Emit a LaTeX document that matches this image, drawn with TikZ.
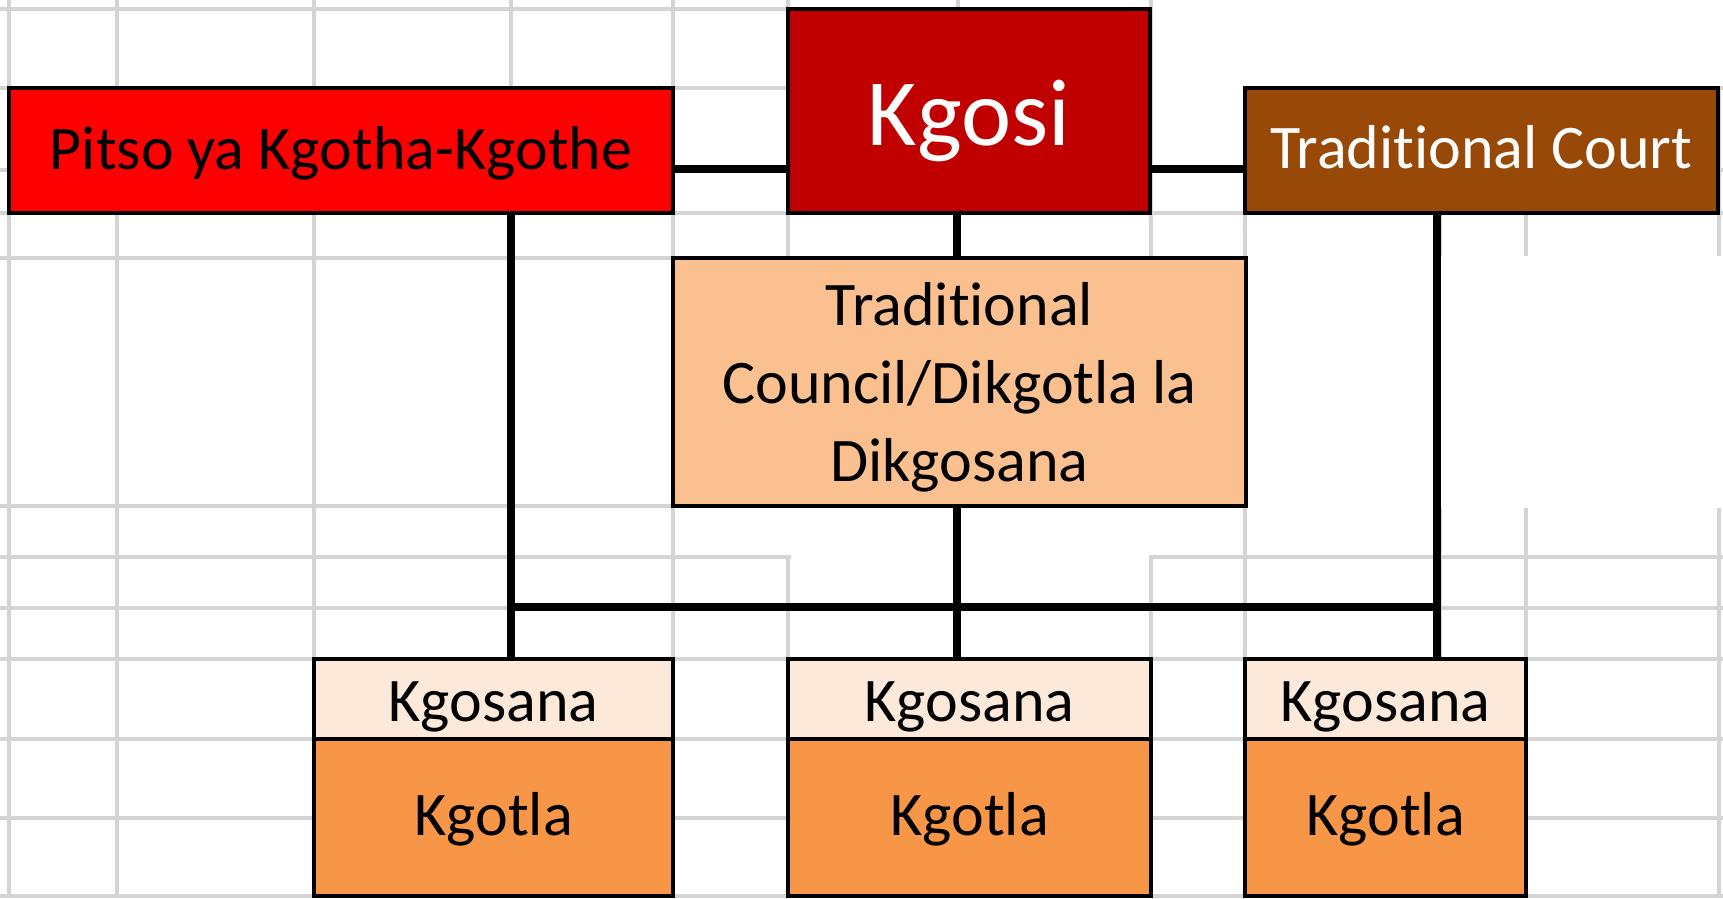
\documentclass[tikz,border=0pt]{standalone}
\usepackage{fontspec}
\setmainfont{Carlito}[Ligatures=NoCommon]
\usetikzlibrary{positioning}

\definecolor{pitsored}{HTML}{FF0000}
\definecolor{kgosired}{HTML}{C00000}
\definecolor{courtbrown}{HTML}{984807}
\definecolor{councilorange}{HTML}{FAC090}
\definecolor{kgosanapale}{HTML}{FDE9D9}
\definecolor{kgotlaorange}{HTML}{F79646}
\definecolor{cellgrey}{HTML}{D4D4D4}

\begin{document}
\begin{tikzpicture}[x=1pt,y=-1pt,line cap=butt,
    gridline/.style={draw=cellgrey,line width=3.5pt},
    cell/.style={draw=black,line width=4.5pt,inner sep=0pt,outer sep=0pt,
      font=\fontsize{62}{78}\selectfont},
    oneline/.style={text height=#1,text depth=0pt},
    oneline/.default=36pt,
    link/.style={draw=black,line width=8pt}]
  \useasboundingbox (0,0) rectangle (1723,898);
  % Feuille
  \foreach \x in {9,117,314,511,673,788,958,1151,1245,1440,1526,1719}
    \draw[gridline] (\x,0) -- (\x,898);
  \foreach \y in {9,88,170,213,258,506,557,608,659,739,818,896}
    \draw[gridline] (0,\y) -- (1723,\y);
  % cellules fusionnees
  \fill[white] (1153,0) rectangle (1723,86);
  \fill[white] (1153,0) rectangle (1243,211);
  \fill[white] (1248,256) rectangle (1723,508);
  \fill[white] (786,508) rectangle (1153,555);
  \fill[white] (790.5,555) rectangle (1149,657);
  % Niveau 1
  \node[cell,oneline=37pt,fill=pitsored,minimum width=664pt,minimum height=125pt] (pitso) at (341,150.5) {Pitso ya Kgotha-Kgothe};
  \node[cell,oneline=68pt,fill=kgosired,text=white,minimum width=362pt,minimum height=204pt,
    font=\fontsize{95}{110}\selectfont] (kgosi) at (969,111) {Kgosi};
  \node[cell,oneline=35pt,fill=courtbrown,text=white,minimum width=473pt,minimum height=125pt] (court) at (1481.5,150.5) {Traditional Court};
  % Niveau 2
  \node[cell,fill=councilorange,minimum width=573pt,minimum height=248pt,
    label={[font=\fontsize{62}{78}\selectfont,align=center,yshift=-5pt]center:Traditional\\Council/Dikgotla la\\Dikgosana}] (council) at (959.5,382) {};
  % Niveau 3
  \foreach \n/\x/\w in {a/493.5/359,b/969.5/363,c/1385.5/281}{
    \node[cell,oneline=44pt,fill=kgosanapale,minimum width=\w pt,minimum height=80pt] (k\n) at (\x,699) {Kgosana};
    \node[cell,oneline=35pt,fill=kgotlaorange,minimum width=\w pt,minimum height=157pt,below=0pt of k\n] (t\n) {Kgotla};
  }
  % liens
  \coordinate (r1) at (0,169);
  \coordinate (bus) at (0,607);
  \coordinate (cL) at (511,0);
  \coordinate (cM) at (957,0);
  \coordinate (cR) at (1437,0);
  \draw[link] (pitso.east |- r1) -- (kgosi.west |- r1);
  \draw[link] (kgosi.east |- r1) -- (court.west |- r1);
  \draw[link] (kgosi.south -| cM) -- (council.north -| cM);
  \draw[link] (council.south -| cM) -- (kb.north -| cM);
  \draw[link] (pitso.south -| cL) -- (ka.north -| cL);
  \draw[link] (court.south -| cR) -- (kc.north -| cR);
  \draw[link] (cL |- bus) -- (cR |- bus);
\end{tikzpicture}
\end{document}
